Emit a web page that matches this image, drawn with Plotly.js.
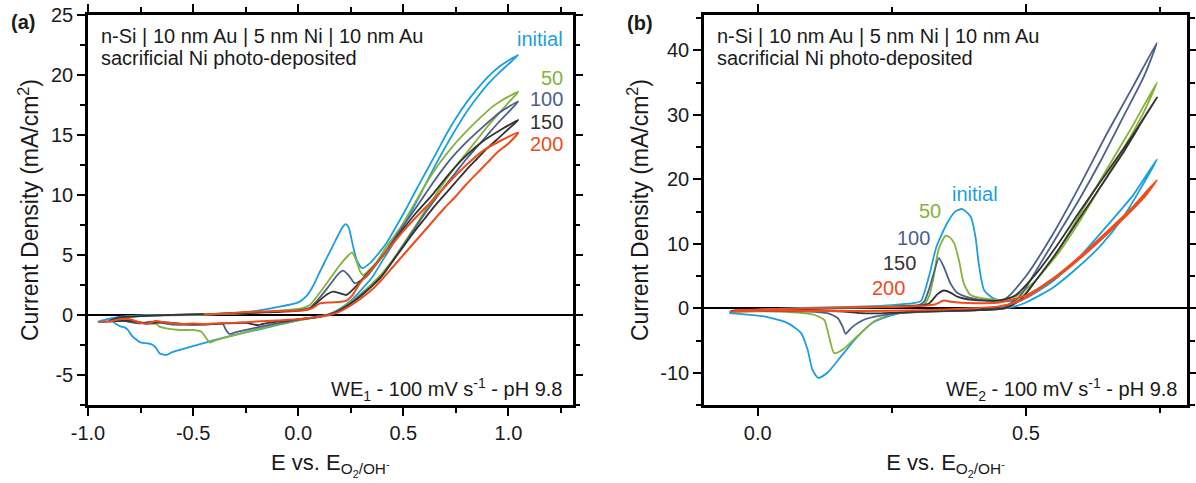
<!DOCTYPE html>
<html><head><meta charset="utf-8">
<script src="https://cdn.plot.ly/plotly-3.0.1.min.js"></script>
<style>html,body{margin:0;padding:0;background:#fff;}#chart{width:1196px;height:483px;}</style>
</head><body><div id="chart"></div>
<script>
// ---------- Panel (a): WE1 ----------
const a_initial_x = [-0.953,-0.92,-0.88,-0.84,-0.78,-0.7,-0.6,-0.5,-0.4,-0.3,-0.2,-0.1,0.0,0.04,0.07,0.1,0.14,0.18,0.21,0.225,0.24,0.26,0.28,0.305,0.34,0.39,0.42,0.47,0.515,0.56,0.61,0.66,0.706,0.75,0.8,0.85,0.9,0.95,1.0,1.047,1.0,0.95,0.9,0.85,0.8,0.75,0.7,0.65,0.6,0.55,0.5,0.45,0.4,0.35,0.3,0.25,0.2,0.15,0.1,0.05,0.0,-0.1,-0.2,-0.3,-0.4,-0.5,-0.6,-0.628,-0.66,-0.675,-0.691,-0.715,-0.747,-0.768,-0.794,-0.81,-0.826,-0.842,-0.866,-0.882,-0.953];
const a_initial_y = [-0.56,-0.4,-0.25,-0.12,-0.05,0.0,0.0,0.02,0.06,0.15,0.35,0.65,1.05,1.6,2.4,3.5,4.9,6.3,7.3,7.58,7.3,5.8,4.5,3.9,4.3,5.3,6.0,7.5,8.9,10.4,12.0,13.6,15.1,16.4,17.7,18.8,19.8,20.6,21.2,21.67,20.9,20.1,19.2,18.1,16.9,15.5,14.0,12.4,10.7,9.0,7.4,5.9,4.5,3.1,2.1,1.2,0.55,0.1,-0.1,-0.25,-0.45,-0.85,-1.25,-1.65,-2.1,-2.6,-3.1,-3.33,-3.19,-2.78,-2.5,-2.36,-2.31,-2.08,-1.67,-1.25,-1.03,-0.97,-0.75,-0.56,-0.56];

const a_50_x = [-0.85,-0.8,-0.7,-0.5,-0.3,-0.2,-0.1,0.0,0.055,0.1,0.15,0.2,0.24,0.256,0.275,0.295,0.309,0.34,0.372,0.42,0.483,0.55,0.61,0.67,0.737,0.8,0.864,0.92,0.96,1.0,1.047,1.0,0.95,0.9,0.85,0.8,0.75,0.7,0.65,0.6,0.55,0.5,0.45,0.4,0.35,0.3,0.25,0.2,0.15,0.1,0.05,0.0,-0.1,-0.2,-0.3,-0.4,-0.421,-0.437,-0.461,-0.5,-0.564,-0.628,-0.66,-0.675,-0.72,-0.78,-0.83,-0.85];
const a_50_y = [-0.25,-0.12,-0.05,0.0,0.1,0.2,0.35,0.5,0.83,1.8,3.0,4.2,5.0,5.22,4.6,3.6,3.33,3.8,4.4,5.7,7.2,9.2,11.0,12.6,14.1,15.3,16.4,17.3,17.8,18.2,18.6,17.7,16.7,15.7,14.6,13.5,12.4,11.2,9.9,8.6,7.2,5.9,4.6,3.5,2.6,1.8,1.1,0.5,0.1,-0.15,-0.3,-0.45,-0.8,-1.2,-1.65,-2.15,-2.3,-1.94,-1.39,-1.25,-1.25,-1.11,-0.97,-0.75,-0.7,-0.5,-0.3,-0.25];

const a_100_x = [-0.9,-0.85,-0.7,-0.5,-0.3,-0.1,0.0,0.055,0.1,0.15,0.19,0.213,0.24,0.269,0.3,0.325,0.37,0.42,0.49,0.563,0.64,0.721,0.8,0.88,0.96,1.047,1.0,0.95,0.9,0.85,0.8,0.75,0.7,0.65,0.6,0.55,0.5,0.45,0.4,0.35,0.3,0.25,0.2,0.15,0.1,0.0,-0.1,-0.2,-0.3,-0.326,-0.345,-0.358,-0.4,-0.5,-0.6,-0.7,-0.75,-0.8,-0.85,-0.9];
const a_100_y = [-0.5,-0.2,-0.05,0.05,0.15,0.3,0.4,0.6,1.4,2.5,3.4,3.69,3.3,2.64,2.9,3.2,4.2,5.4,7.2,9.0,11.0,12.9,14.4,15.7,16.9,17.8,16.9,16.0,15.0,14.0,13.0,11.9,10.8,9.6,8.4,7.1,5.8,4.5,3.3,2.4,1.7,1.0,0.45,0.05,-0.15,-0.4,-0.7,-1.05,-1.45,-1.58,-1.2,-0.75,-0.75,-0.8,-0.8,-0.55,-0.7,-0.6,-0.4,-0.5];

const a_150_x = [-0.9,-0.85,-0.7,-0.5,-0.3,-0.1,0.0,0.055,0.1,0.14,0.166,0.2,0.229,0.27,0.31,0.357,0.42,0.483,0.56,0.642,0.72,0.8,0.88,0.96,1.047,1.0,0.95,0.9,0.85,0.8,0.75,0.7,0.65,0.6,0.55,0.5,0.45,0.4,0.35,0.3,0.25,0.2,0.15,0.1,0.0,-0.1,-0.17,-0.19,-0.25,-0.35,-0.45,-0.55,-0.65,-0.72,-0.8,-0.9];
const a_150_y = [-0.5,-0.2,-0.05,0.05,0.15,0.25,0.35,0.5,1.2,1.75,1.94,1.8,1.67,2.3,3.1,4.0,5.3,6.8,8.5,10.1,11.8,13.3,14.5,15.4,16.25,15.5,14.7,13.9,13.0,12.1,11.1,10.1,9.1,8.0,6.9,5.7,4.5,3.3,2.4,1.6,0.95,0.4,0.05,-0.15,-0.35,-0.55,-0.75,-0.85,-0.65,-0.7,-0.8,-0.75,-0.6,-0.7,-0.5,-0.5];

const a_200_x = [-0.45,-0.35,-0.25,-0.15,-0.05,0.03,0.07,0.1,0.15,0.2,0.23,0.26,0.293,0.35,0.42,0.5,0.58,0.642,0.72,0.8,0.88,0.96,1.047,1.0,0.95,0.9,0.85,0.8,0.75,0.7,0.65,0.6,0.55,0.5,0.45,0.4,0.35,0.3,0.25,0.2,0.15,0.1,0.0,-0.1,-0.2,-0.3,-0.4,-0.45,-0.5,-0.55,-0.62,-0.68,-0.72,-0.76,-0.8,-0.85,-0.9,-0.95];
const a_200_y = [0.08,0.1,0.25,0.3,0.35,0.4,0.6,0.95,1.05,1.1,1.2,1.7,2.64,3.8,5.3,7.0,8.5,9.6,11.1,12.5,13.7,14.5,15.2,14.3,13.6,12.7,11.8,10.9,9.9,9.0,8.0,7.0,6.0,5.0,4.0,3.0,2.1,1.4,0.8,0.3,0.0,-0.15,-0.35,-0.45,-0.55,-0.65,-0.7,-0.75,-0.7,-0.75,-0.65,-0.5,-0.75,-0.6,-0.35,-0.35,-0.55,-0.6];

// ---------- Panel (b): WE2 ----------
const b_initial_x = [-0.053,0.0,0.1,0.2,0.25,0.29,0.304,0.319,0.333,0.353,0.368,0.381,0.397,0.406,0.412,0.422,0.44,0.46,0.48,0.5,0.55,0.6,0.65,0.7,0.744,0.72,0.68,0.64,0.6,0.55,0.5,0.47,0.42,0.32,0.26,0.217,0.186,0.155,0.13,0.113,0.102,0.093,0.081,0.056,0.012,-0.053];
const b_initial_y = [-0.6,-0.2,0.1,0.3,0.5,0.8,1.1,4.9,9.5,13.2,15.0,15.4,14.2,11.0,6.9,2.8,1.5,1.1,1.2,1.6,4.2,8.0,12.7,17.6,23.1,19.5,14.0,9.8,6.6,3.2,0.9,0.1,-0.25,-0.5,-0.86,-2.1,-4.4,-7.5,-10.0,-10.8,-9.5,-6.4,-3.85,-2.3,-1.27,-0.75];

const b_50_x = [-0.05,0.1,0.2,0.28,0.31,0.32,0.328,0.337,0.35,0.358,0.366,0.375,0.384,0.396,0.415,0.45,0.48,0.52,0.56,0.6,0.65,0.7,0.744,0.72,0.68,0.64,0.6,0.56,0.52,0.49,0.46,0.4,0.3,0.25,0.217,0.186,0.16,0.1424,0.136,0.13,0.124,0.105,0.043,-0.05];
const b_50_y = [-0.4,0.0,0.2,0.4,0.6,2.0,4.9,9.1,11.24,11.0,10.1,7.5,3.9,2.1,1.6,1.3,1.8,4.5,9.0,14.5,21.5,28.5,35.0,30.5,24.5,19.0,13.5,8.5,4.5,1.5,0.0,-0.3,-0.6,-0.9,-2.0,-4.3,-6.3,-6.95,-5.4,-3.35,-1.8,-1.0,-0.5,-0.5];

const b_100_x = [-0.05,0.1,0.2,0.3,0.31,0.319,0.328,0.3376,0.347,0.359,0.372,0.396,0.43,0.46,0.5,0.55,0.6,0.65,0.7,0.744,0.72,0.68,0.64,0.6,0.56,0.52,0.49,0.46,0.4,0.3,0.25,0.2,0.175,0.164,0.158,0.149,0.13,0.0935,-0.05];
const b_100_y = [-0.4,-0.05,0.15,0.5,1.0,2.87,5.4,7.78,6.4,3.9,2.4,1.6,1.2,1.4,5.0,11.5,19.0,27.0,34.5,41.2,36.0,29.5,23.0,17.0,11.5,6.0,2.0,0.2,-0.3,-0.55,-0.85,-1.7,-3.0,-3.95,-2.8,-1.5,-0.75,-0.5,-0.45];

const b_150_x = [-0.05,0.1,0.2,0.3,0.32,0.335,0.347,0.36,0.372,0.4,0.45,0.48,0.52,0.56,0.6,0.65,0.7,0.744,0.72,0.68,0.64,0.6,0.56,0.52,0.49,0.46,0.4,0.3,0.25,0.22,0.192,0.16,0.1,-0.05];
const b_150_y = [-0.4,-0.1,0.1,0.4,0.8,2.2,2.76,2.4,1.8,1.3,1.2,2.0,5.5,10.0,15.0,21.0,27.0,32.7,29.5,24.0,19.0,14.0,9.0,4.5,1.3,0.0,-0.3,-0.5,-0.7,-0.8,-0.75,-0.5,-0.35,-0.4];

const b_200_x = [-0.045,0.05,0.15,0.25,0.3,0.33,0.347,0.36,0.38,0.42,0.45,0.5,0.55,0.6,0.65,0.7,0.744,0.72,0.68,0.63,0.58,0.53,0.49,0.45,0.4,0.3,0.2,0.1,0.0,-0.05];
const b_200_y = [-0.3,-0.1,0.1,0.2,0.35,0.6,1.21,1.0,0.85,0.8,0.9,2.0,4.6,8.0,11.8,15.8,19.9,17.2,13.8,9.9,6.3,3.3,1.2,0.3,0.0,-0.3,-0.4,-0.4,-0.4,-0.5];

// ---------- labels ----------
const series_names = ['initial','50','100','150','200'];
const series_colors = ['#1c9fe0','#86b23a','#4d6089','#333333','#f04b1b'];
const a_xtick_vals = [-1.0,-0.5,0.0,0.5,1.0];
const a_xtick_text = ['-1.0','-0.5','0.0','0.5','1.0'];
const a_ytick_vals = [-5,0,5,10,15,20,25];
const a_ytick_text = ['-5','0','5','10','15','20','25'];
const b_xtick_vals = [0.0,0.5];
const b_xtick_text = ['0.0','0.5'];
const b_ytick_vals = [-10,0,10,20,30,40];
const b_ytick_text = ['-10','0','10','20','30','40'];

const a_series = [[a_initial_x,a_initial_y],[a_50_x,a_50_y],[a_100_x,a_100_y],[a_150_x,a_150_y],[a_200_x,a_200_y]];
const b_series = [[b_initial_x,b_initial_y],[b_50_x,b_50_y],[b_100_x,b_100_y],[b_150_x,b_150_y],[b_200_x,b_200_y]];

const FONT = 'Liberation Sans, Arial, Helvetica, sans-serif';
const traces = [];
a_series.forEach((s,i)=>traces.push({x:s[0],y:s[1],xaxis:'x',yaxis:'y',type:'scatter',mode:'lines',name:series_names[i],
  line:{color:series_colors[i],width:i===4?2:1.8,shape:'spline',smoothing:0.6},hoverinfo:'skip'}));
b_series.forEach((s,i)=>traces.push({x:s[0],y:s[1],xaxis:'x2',yaxis:'y2',type:'scatter',mode:'lines',name:series_names[i],
  line:{color:series_colors[i],width:i===4?2:1.8,shape:'spline',smoothing:0.6},hoverinfo:'skip'}));

function axisBase(){
  return {showline:true,linewidth:2.6,linecolor:'#000',mirror:'allticks',ticks:'outside',ticklen:8,tickwidth:2,tickcolor:'#000',
    showgrid:false,zeroline:false,automargin:false,tickmode:'array',
    tickfont:{family:FONT,size:20,color:'#1a1a1a'},
    minor:{ticks:'outside',ticklen:5,tickwidth:2,tickcolor:'#000',showgrid:false}};
}
const xa = Object.assign(axisBase(),{domain:[0,0.4409],range:[-1.0,1.305],anchor:'y',tickvals:a_xtick_vals,ticktext:a_xtick_text,
  title:{text:'E vs. E<sub>O<sub>2</sub>/OH<sup>-</sup></sub>',font:{family:FONT,size:22,color:'#1a1a1a'},standoff:12}});
xa.minor.dtick=0.25; xa.minor.tick0=-1.0;
const ya = Object.assign(axisBase(),{domain:[0,1],range:[-7.5,25],anchor:'x',tickvals:a_ytick_vals,ticktext:a_ytick_text,
  zeroline:true,zerolinecolor:'#000',zerolinewidth:2.2,
  title:{text:'Current Density (mA/cm<sup>2</sup>)',font:{family:FONT,size:23,color:'#1a1a1a'},standoff:6}});
ya.minor.dtick=2.5; ya.minor.tick0=0;
const xb = Object.assign(axisBase(),{domain:[0.5605,1],range:[-0.1,0.8],anchor:'y2',tickvals:b_xtick_vals,ticktext:b_xtick_text,
  title:{text:'E vs. E<sub>O<sub>2</sub>/OH<sup>-</sup></sub>',font:{family:FONT,size:22,color:'#1a1a1a'},standoff:12}});
xb.minor.dtick=0.25; xb.minor.tick0=0;
const yb = Object.assign(axisBase(),{domain:[0,1],range:[-15,45.5],anchor:'x2',tickvals:b_ytick_vals,ticktext:b_ytick_text,
  zeroline:true,zerolinecolor:'#000',zerolinewidth:2.2,
  title:{text:'Current Density (mA/cm<sup>2</sup>)',font:{family:FONT,size:23,color:'#1a1a1a'},standoff:6}});
yb.minor.dtick=5; yb.minor.tick0=0;

const txt = (t,x,y,xr,yr,xanchor,color)=>({text:t,x:x,y:y,xref:xr,yref:yr,xanchor:xanchor,yanchor:'middle',
  showarrow:false,font:{family:FONT,size:20,color:color||'#1a1a1a'}});
const annotations = [
  txt('<b>(a)</b>',-0.0719,0.981,'paper','paper','left'),
  txt('<b>(b)</b>',0.4883,0.979,'paper','paper','left'),
  txt('n-Si | 10 nm Au | 5 nm Ni | 10 nm Au',0.023,0.947,'x domain','y domain','left'),
  txt('sacrificial Ni photo-deposited',0.023,0.8905,'x domain','y domain','left'),
  txt('WE<sub>1</sub> - 100 mV s<sup>-1</sup> - pH 9.8',0.9824,0.041,'x domain','y domain','right'),
  txt(series_names[0],0.9845,0.9397,'x domain','y domain','right',series_colors[0]),
  txt(series_names[1],0.9845,0.8385,'x domain','y domain','right',series_colors[1]),
  txt(series_names[2],0.9845,0.7846,'x domain','y domain','right',series_colors[2]),
  txt(series_names[3],0.9845,0.7269,'x domain','y domain','right',series_colors[3]),
  txt(series_names[4],0.9845,0.6692,'x domain','y domain','right',series_colors[4]),
  txt('n-Si | 10 nm Au | 5 nm Ni | 10 nm Au',0.0218,0.947,'x2 domain','y2 domain','left'),
  txt('sacrificial Ni photo-deposited',0.0218,0.8905,'x2 domain','y2 domain','left'),
  txt('WE<sub>2</sub> - 100 mV s<sup>-1</sup> - pH 9.8',0.983,0.041,'x2 domain','y2 domain','right'),
  txt(series_names[0],0.5096,0.541,'x2 domain','y2 domain','left',series_colors[0]),
  txt(series_names[1],0.4406,0.4962,'x2 domain','y2 domain','left',series_colors[1]),
  txt(series_names[2],0.3957,0.4282,'x2 domain','y2 domain','left',series_colors[2]),
  txt(series_names[3],0.3657,0.3641,'x2 domain','y2 domain','left',series_colors[3]),
  txt(series_names[4],0.3439,0.30,'x2 domain','y2 domain','left',series_colors[4])
];

const layout = {width:1196,height:483,margin:{l:88,r:9,t:15,b:78,pad:0},paper_bgcolor:'#fff',plot_bgcolor:'#fff',
  showlegend:false,font:{family:FONT,size:20,color:'#1a1a1a'},xaxis:xa,yaxis:ya,xaxis2:xb,yaxis2:yb,annotations:annotations};
Plotly.newPlot('chart',traces,layout,{displayModeBar:false});
</script></body></html>
